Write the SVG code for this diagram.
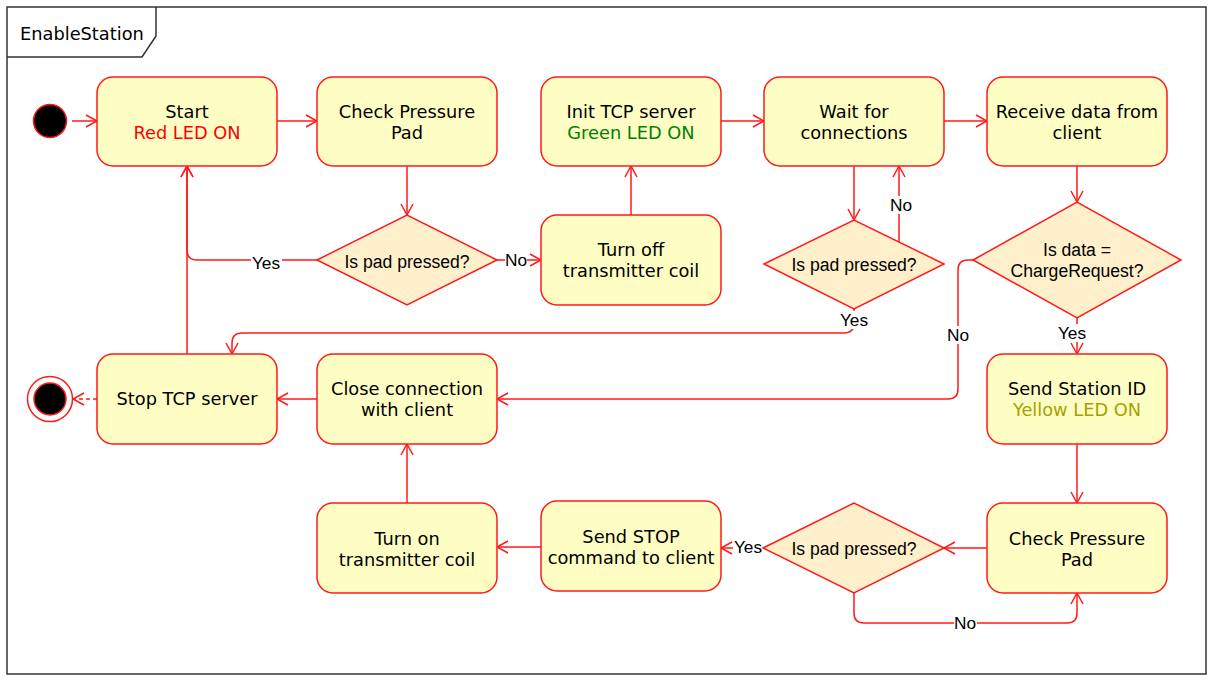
<svg xmlns="http://www.w3.org/2000/svg" width="1213" height="681" viewBox="0 0 1213 681">
<defs>
<style>
.frame{fill:#ffffff;stroke:#333333;stroke-width:1.5}
.node{fill:#FEFEC4;stroke:#FF1A1A;stroke-width:1.5}
.dia{fill:#FFF0CB;stroke:#FF1A1A;stroke-width:1.5}
.t{font-family:"DejaVu Sans",Verdana,sans-serif;font-size:17.8px;fill:#000000;text-anchor:middle}
.d{font-family:"Liberation Sans",Arial,sans-serif;font-size:17.6px;fill:#000000;text-anchor:middle}
.lbl{font-family:"Liberation Sans",Arial,sans-serif;font-size:17.3px;fill:#000000;text-anchor:middle}
.lb{fill:#ffffff;stroke:none}
.c{fill:none;stroke:#FF1A1A;stroke-width:1.5;marker-end:url(#arr)}
.red{fill:#FF0000}
.green{fill:#008000}
.yellow{fill:#A3A300}
</style>
<marker id="arr" markerUnits="userSpaceOnUse" markerWidth="16" markerHeight="16" viewBox="-13 -8 16 16" refX="0" refY="0" orient="auto">
<path d="M -11,-6 L 0,0 L -11,6" fill="none" stroke="#FF1A1A" stroke-width="1.5"/>
</marker>
</defs>
<g id="frame">
<rect class="frame" x="7" y="7" width="1199" height="667"/>
<path d="M7,57 H142 L156,36 V7" fill="none" stroke="#333333" stroke-width="1.5"/>
<text x="20" y="40" font-family="DejaVu Sans,Verdana,sans-serif" font-size="17.8px" fill="#000">EnableStation</text>
</g>
<g id="connectors">
<path class="c" d="M72,121 H97"/>
<path class="c" d="M277,121 H317"/>
<path class="c" d="M407,166 V215"/>
<path class="c" d="M497,260 H541"/>
<path class="c" d="M317,260 H197 Q187,260 187,250 V166"/>
<path class="c" d="M631,215 V166"/>
<path class="c" d="M721,121 H764"/>
<path class="c" d="M944,121 H987"/>
<path class="c" d="M854,166 V220"/>
<path class="c" d="M899,242 V166"/>
<path class="c" d="M854,309 V323 Q854,333 844,333 H242 Q232,333 232,343 V354"/>
<path class="c" d="M187,354 V166"/>
<path class="c" d="M97,399 H73" stroke-dasharray="4,3"/>
<path class="c" d="M1077,166 V202"/>
<path class="c" d="M1077,318 V354"/>
<path class="c" d="M973,260 H968 Q958,260 958,270 V389 Q958,399 948,399 H497"/>
<path class="c" d="M317,399 H277"/>
<path class="c" d="M1077,444 V503"/>
<path class="c" d="M987,548 H944"/>
<path class="c" d="M763,548 H721"/>
<path class="c" d="M854,593 V613 Q854,623 864,623 H1067 Q1077,623 1077,613 V593"/>
<path class="c" d="M541,547 H497"/>
<path class="c" d="M407,503 V444"/>
<rect class="lb" x="251" y="254" width="31" height="18"/>
<text class="lbl" x="266" y="269">Yes</text>
<rect class="lb" x="505" y="251" width="22" height="18"/>
<text class="lbl" x="516" y="266">No</text>
<rect class="lb" x="889" y="196" width="24" height="18"/>
<text class="lbl" x="901" y="211">No</text>
<rect class="lb" x="839" y="311" width="31" height="18"/>
<text class="lbl" x="854" y="326">Yes</text>
<rect class="lb" x="947" y="326" width="23" height="18"/>
<text class="lbl" x="958" y="341">No</text>
<rect class="lb" x="1057" y="324" width="31" height="18"/>
<text class="lbl" x="1072" y="339">Yes</text>
<rect class="lb" x="733" y="538" width="30" height="18"/>
<text class="lbl" x="748" y="553">Yes</text>
<rect class="lb" x="954" y="614" width="23" height="18"/>
<text class="lbl" x="965" y="629">No</text>
</g>
<g id="initial"><circle cx="50" cy="121" r="16.5" fill="#000" stroke="#FF1A1A" stroke-width="1.5"/></g>
<g id="final"><circle cx="50" cy="399" r="22.5" fill="#fff" stroke="#FF1A1A" stroke-width="1.5"/><circle cx="50" cy="399" r="16" fill="#000" stroke="#FF1A1A" stroke-width="1.5"/></g>
<g id="start"><rect class="node" x="97" y="77" width="180" height="89" rx="16"/><text class="t" x="187" y="118">Start</text><text class="t red" x="187" y="139">Red LED ON</text></g>
<g id="check1"><rect class="node" x="317" y="77" width="180" height="89" rx="16"/><text class="t" x="407" y="118">Check Pressure</text><text class="t" x="407" y="139">Pad</text></g>
<g id="inittcp"><rect class="node" x="541" y="77" width="180" height="89" rx="16"/><text class="t" x="631" y="118">Init TCP server</text><text class="t green" x="631" y="139">Green LED ON</text></g>
<g id="wait"><rect class="node" x="764" y="77" width="180" height="89" rx="16"/><text class="t" x="854" y="118">Wait for</text><text class="t" x="854" y="139">connections</text></g>
<g id="receive"><rect class="node" x="987" y="77" width="180" height="89" rx="16"/><text class="t" x="1077" y="118">Receive data from</text><text class="t" x="1077" y="139">client</text></g>
<g id="dia1"><polygon class="dia" points="317,260 407,215 497,260 407,305"/><text class="d" x="407" y="268">Is pad pressed?</text></g>
<g id="turnoff"><rect class="node" x="541" y="215" width="180" height="90" rx="16"/><text class="t" x="631" y="256">Turn off</text><text class="t" x="631" y="277">transmitter coil</text></g>
<g id="dia2"><polygon class="dia" points="764,264 854,220 944,264 854,309"/><text class="d" x="854" y="271">Is pad pressed?</text></g>
<g id="dia3"><polygon class="dia" points="973,260 1077,202 1181,260 1077,318"/><text class="d" x="1077" y="256">Is data =</text><text class="d" x="1077" y="277">ChargeRequest?</text></g>
<g id="stoptcp"><rect class="node" x="97" y="354" width="180" height="90" rx="16"/><text class="t" x="187" y="405">Stop TCP server</text></g>
<g id="close"><rect class="node" x="317" y="354" width="180" height="90" rx="16"/><text class="t" x="407" y="395">Close connection</text><text class="t" x="407" y="416">with client</text></g>
<g id="sendid"><rect class="node" x="987" y="354" width="180" height="90" rx="16"/><text class="t" x="1077" y="395">Send Station ID</text><text class="t yellow" x="1077" y="416">Yellow LED ON</text></g>
<g id="turnon"><rect class="node" x="317" y="503" width="180" height="90" rx="16"/><text class="t" x="407" y="545">Turn on</text><text class="t" x="407" y="566">transmitter coil</text></g>
<g id="sendstop"><rect class="node" x="541" y="501" width="180" height="90" rx="16"/><text class="t" x="631" y="543">Send STOP</text><text class="t" x="631" y="564">command to client</text></g>
<g id="dia4"><polygon class="dia" points="763,548 854,503 944,548 854,593"/><text class="d" x="854" y="555">Is pad pressed?</text></g>
<g id="check2"><rect class="node" x="987" y="503" width="180" height="90" rx="16"/><text class="t" x="1077" y="545">Check Pressure</text><text class="t" x="1077" y="566">Pad</text></g>
</svg>
